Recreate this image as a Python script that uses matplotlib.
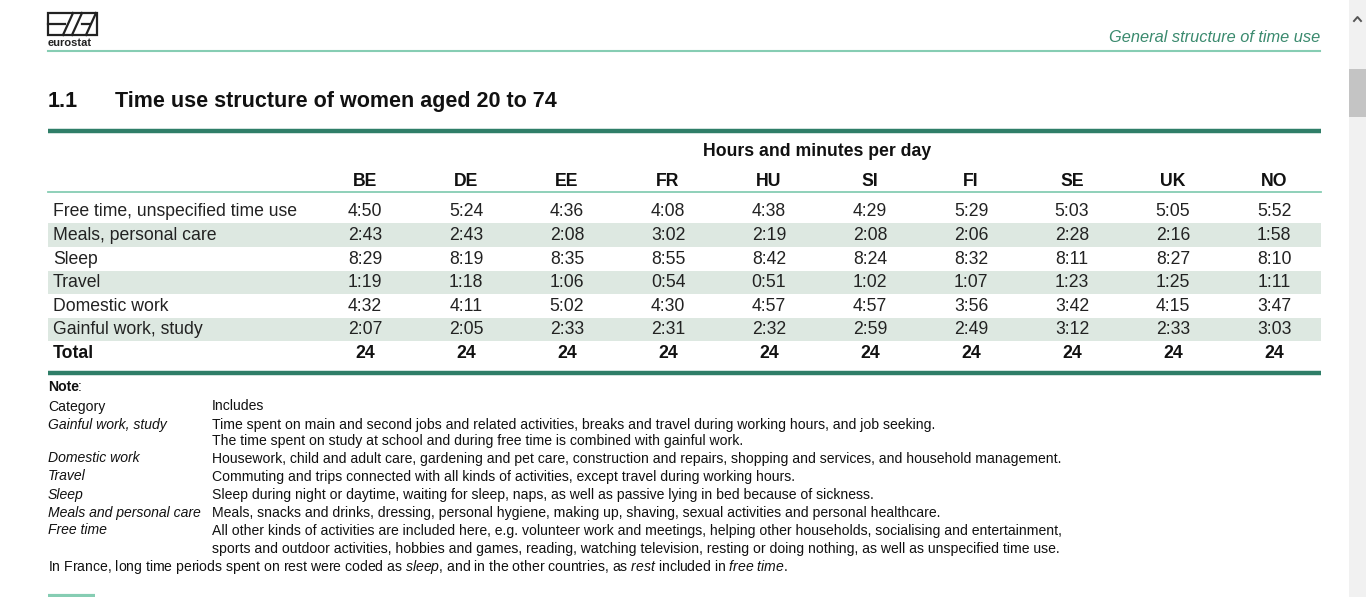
import matplotlib
matplotlib.use('Agg')
import matplotlib.pyplot as plt
from matplotlib.patches import Rectangle

plt.rcParams['font.family'] = ['Liberation Sans', 'DejaVu Sans']
plt.rcParams['mathtext.fontset'] = 'custom'
plt.rcParams['mathtext.rm'] = 'Liberation Sans'
plt.rcParams['mathtext.it'] = 'Liberation Sans:italic'
plt.rcParams['mathtext.bf'] = 'Liberation Sans:bold'

countries = ['BE', 'DE', 'EE', 'FR', 'HU', 'SI', 'FI', 'SE', 'UK', 'NO']
activities = ['Free time, unspecified time use', 'Meals, personal care', 'Sleep',
              'Travel', 'Domestic work', 'Gainful work, study']
free_time = ['4:50', '5:24', '4:36', '4:08', '4:38', '4:29', '5:29', '5:03', '5:05', '5:52']
meals = ['2:43', '2:43', '2:08', '3:02', '2:19', '2:08', '2:06', '2:28', '2:16', '1:58']
sleep = ['8:29', '8:19', '8:35', '8:55', '8:42', '8:24', '8:32', '8:11', '8:27', '8:10']
travel = ['1:19', '1:18', '1:06', '0:54', '0:51', '1:02', '1:07', '1:23', '1:25', '1:11']
domestic = ['4:32', '4:11', '5:02', '4:30', '4:57', '4:57', '3:56', '3:42', '4:15', '3:47']
gainful = ['2:07', '2:05', '2:33', '2:31', '2:32', '2:59', '2:49', '3:12', '2:33', '3:03']
totals = ['24', '24', '24', '24', '24', '24', '24', '24', '24', '24']

note_categories = ['Gainful work, study', '', 'Domestic work', 'Travel', 'Sleep',
                   'Meals and personal care', 'Free time', '']
note_texts = [
    'Time spent on main and second jobs and related activities, breaks and travel during working hours, and job seeking.',
    'The time spent on study at school and during free time is combined with gainful work.',
    'Housework, child and adult care, gardening and pet care, construction and repairs, shopping and services, and household management.',
    'Commuting and trips connected with all kinds of activities, except travel during working hours.',
    'Sleep during night or daytime, waiting for sleep, naps, as well as passive lying in bed because of sickness.',
    'Meals, snacks and drinks, dressing, personal hygiene, making up, shaving, sexual activities and personal healthcare.',
    'All other kinds of activities are included here, e.g. volunteer work and meetings, helping other households, socialising and entertainment,',
    'sports and outdoor activities, hobbies and games, reading, watching television, resting or doing nothing, as well as unspecified time use.',
]
footnote = (r'In France, long time periods spent on rest were coded as $\mathit{sleep}$, '
            r'and in the other countries, as $\mathit{rest}$ included in $\mathit{free\ time}$.')

rows = [free_time, meals, sleep, travel, domestic, gainful]

dark_green = '#2f7e68'
light_green = '#86cdb3'
shade = '#dde8e1'
fs_table = 12.7
fs_note = 10.1

fig = plt.figure(figsize=(13.66, 5.97), dpi=100)
ax = fig.add_axes([0, 0, 1, 1])
ax.set_xlim(0, 1366)
ax.set_ylim(597, 0)
ax.axis('off')

# scrollbar
ax.add_patch(Rectangle((1349, 0), 17, 597, color='#f1f1f1', lw=0))
ax.add_patch(Rectangle((1349, 69), 17, 48, color='#c4c4c4', lw=0))
ax.plot([1354, 1357.5, 1361], [21, 17, 21], color='#555555', lw=1.4)

# logo
ax.add_patch(Rectangle((48, 13), 49, 22, fill=False, ec='#222222', lw=1.6))
ax.plot([48, 65], [24, 24], color='#222222', lw=1.6)
ax.plot([63, 73], [35, 13], color='#222222', lw=1.6)
ax.plot([72, 82], [35, 13], color='#222222', lw=1.6)
ax.plot([82, 90], [24, 24], color='#222222', lw=1.6)
ax.plot([86, 96], [35, 13], color='#222222', lw=1.6)
ax.text(47.5, 42.5, 'eurostat', fontsize=8, fontweight='bold', ha='left', va='center', color='#222222')

# header
ax.text(1320, 37.5, 'General structure of time use', fontsize=11.8, style='italic',
        color='#3a8a6e', ha='right', va='center')
ax.plot([48, 1320], [51, 51], color=light_green, lw=1.5)

# title
ax.text(48, 101.5, '1.1', fontsize=15.5, fontweight='bold', va='center', color='#111111')
ax.text(115, 101.5, 'Time use structure of women aged 20 to 74', fontsize=15.5,
        fontweight='bold', va='center', color='#111111')

# table
ax.plot([48, 1321], [130.5, 130.5], color=dark_green, lw=3.2, solid_capstyle='butt')
ax.text(817, 151.5, 'Hours and minutes per day', fontsize=fs_table, fontweight='bold',
        ha='center', va='center', color='#111111')
col_x = [365 + 101 * i for i in range(len(countries))]
for x, c in zip(col_x, countries):
    ax.text(x, 181, c, fontsize=fs_table, fontweight='bold', ha='center', va='center', color='#111111')
ax.plot([48, 1321], [192, 192], color=light_green, lw=1.3)

row_y = [212 + 23.6 * i for i in range(len(rows) + 1)]
for i, (label, vals) in enumerate(zip(activities, rows)):
    y = row_y[i]
    if i % 2 == 1:
        ax.add_patch(Rectangle((48, y - 12.3), 1273, 23.6, color=shade, lw=0))
    ax.text(53, y, label, fontsize=fs_table, va='center', color='#222222')
    for x, v in zip(col_x, vals):
        ax.text(x, y, v, fontsize=fs_table, ha='center', va='center', color='#222222')
y = row_y[-1]
ax.text(53, y, 'Total', fontsize=fs_table, fontweight='bold', va='center', color='#111111')
for x, v in zip(col_x, totals):
    ax.text(x, y, v, fontsize=fs_table, fontweight='bold', ha='center', va='center', color='#111111')
ax.plot([48, 1321], [372.5, 372.5], color=dark_green, lw=3.2, solid_capstyle='butt')

# notes
ax.text(48, 387, 'Note', fontsize=fs_note, fontweight='bold', va='center', color='#111111')
ax.text(78, 387, ':', fontsize=fs_note, va='center', color='#111111')
ax.text(48, 406.5, 'Category', fontsize=fs_note, va='center', color='#111111')
ax.text(212, 406.5, 'Includes', fontsize=fs_note, va='center', color='#111111')
note_y = [424.5, 440.5, 458.5, 476.5, 494.5, 512.5, 530.5, 548.5]
for y, cat, txt in zip(note_y, note_categories, note_texts):
    if cat:
        ax.text(48, y, cat, fontsize=fs_note, style='italic', va='center', color='#111111')
    ax.text(212, y, txt, fontsize=fs_note, va='center', color='#111111')
ax.text(48, 567.5, footnote, fontsize=fs_note, va='center', color='#111111')

ax.plot([48, 95], [595.5, 595.5], color=light_green, lw=3, solid_capstyle='butt')

fig.savefig('out.png', dpi=100)
